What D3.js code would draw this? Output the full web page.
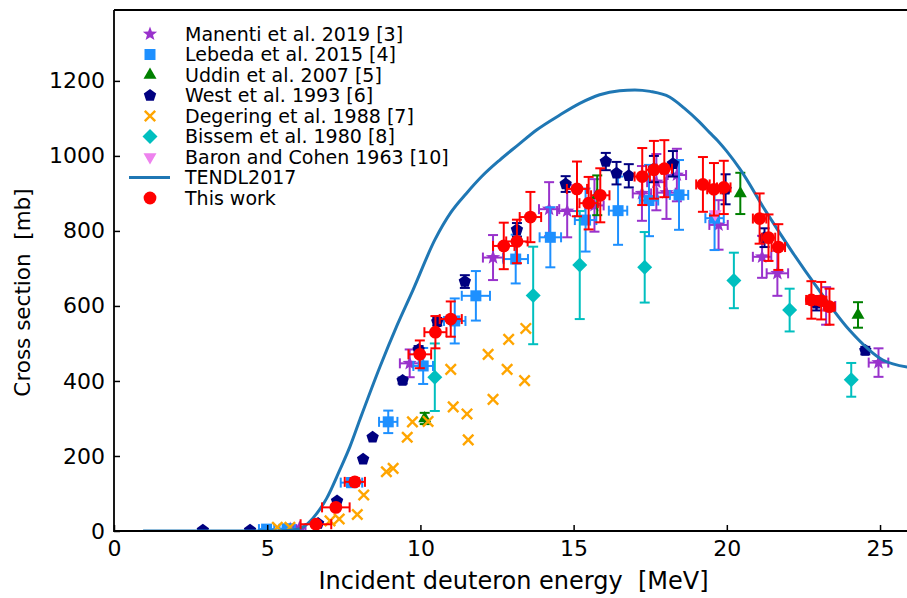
<!DOCTYPE html>
<html><head><meta charset="utf-8">
<script src="https://cdn.jsdelivr.net/npm/d3@7/dist/d3.min.js"></script>
<style>
html,body{margin:0;padding:0;background:#fff;}
svg text{font-family:"DejaVu Sans",sans-serif;fill:#000;white-space:pre;}
</style></head>
<body>
<svg id="chart" width="907" height="598"></svg>
<script>
// ---------------- data ----------------
// rows: [energy MeV, cross section mb, dE, dσ]
const manenti = [
  [5.75,5,0.2,3],[6.05,8,0.2,3],[9.65,447,0.32,37],[12.37,729,0.33,60],[14.20,858,0.33,72],
  [14.79,853,0.33,70],[15.68,868,0.3,70],[17.23,900,0.3,73],[17.70,930,0.3,75],
  [18.03,902,0.3,70],[18.37,949,0.3,70],[19.73,816,0.3,66],[21.15,731,0.3,56],
  [21.65,687,0.35,60],[23.24,600,0.3,50],[24.95,449,0.32,38]
];
const lebeda = [
  [4.98,5,0.25,4],[5.65,6,0.25,4],[7.75,129,0.35,12],[8.95,291,0.3,30],[10.09,440,0.32,48],
  [11.12,560,0.35,60],[11.81,627,0.46,66],[13.11,725,0.4,65],[14.24,783,0.35,80],
  [15.39,829,0.35,84],[16.45,854,0.3,91],[17.46,881,0.3,95],[18.44,896,0.3,93],
  [19.60,834,0.3,85]
];
const uddin = [[10.14,300,0,15],[15.77,895,0,53],[20.44,900,0,55],[24.28,576,0,34]];
const west = [
  [2.9,2,0,0],[4.44,2,0,0],[6.66,20,0,0],[7.28,80,0,0],[8.13,191,0,0],[8.44,250,0,0],
  [9.42,401,0,8],[9.94,483,0,10],[10.55,558,0,10],[11.45,665,0,17],[13.15,803,0,18],
  [14.74,925,0,21],[16.05,985,0,23],[16.40,954,0,30],[16.80,947,0,31],[17.62,965,0,35],
  [18.24,979,0,34],[19.96,911,0,40],[21.23,782,0,25],[22.92,607,0,19],[24.52,481,0,10]
];
const degering = [
  [5.33,10],[5.74,10],[7.05,27],[7.35,32],[7.94,44],[8.15,96],[8.89,158],[9.11,167],
  [9.57,250],[9.74,291],[10.25,292],[10.99,431],[11.07,331],[11.52,312],[11.56,243],
  [12.21,471],[12.37,351],[12.83,431],[12.88,511],[13.40,401],[13.44,540]
];
const bissem = [[10.47,410,0,90],[13.68,628,0,130],[15.20,709,0,144],[17.32,703,0,94],
  [20.23,668,0,74],[22.05,589,0,57],[24.06,403,0,45]];
const baron = [[19.62,845]];
const thisWork = [
  [6.59,18,0.5,5],[7.24,63,0.45,8],[7.86,131,0.33,10],[9.98,471,0.37,37],[10.49,530,0.36,43],
  [10.99,565,0.36,47],[12.72,760,0.35,62],[13.15,772,0.35,58],[13.59,837,0.35,67],
  [15.11,912,0.33,73],[15.49,874,0.3,70],[15.87,895,0.3,72],[17.24,945,0.25,76],
  [17.62,963,0.25,77],[17.96,966,0.25,76],[19.22,924,0.22,73],[19.58,911,0.22,70],
  [19.90,916,0.22,71],[21.07,833,0.22,67],[21.36,782,0.22,62],[21.68,757,0.22,61],
  [22.76,616,0.17,50],[23.08,614,0.17,50],[23.35,598,0.17,48]
];
const tendlE  = [0.95,5.0,5.5,6.0,6.2,6.5,6.94,7.37,7.70,8.02,8.68,9.22,9.76,10.47,11.0,11.5,12.0,12.59,13.2,13.79,14.55,15.2,15.85,16.5,17.0,17.5,18.13,18.6,19.11,19.44,19.71,20.0,20.42,21.29,22.16,22.92,24.0,25.09,25.9];
const tendlCS = [0,0,1,5,12,35,87,163,225,296,438,545,643,776,850,900,945,989,1030,1069,1109,1140,1163,1174,1176,1172,1157,1128,1090,1062,1040,1012,966,850,741,652,536,456,437];
const xTicks = [0,5,10,15,20,25];
const yTicks = [0,200,400,600,800,1000,1200];
const legendLabels = ["Manenti et al. 2019 [3]","Lebeda et al. 2015 [4]","Uddin et al. 2007 [5]",
  "West et al. 1993 [6]","Degering et al. 1988 [7]","Bissem et al. 1980 [8]",
  "Baron and Cohen 1963 [10]","TENDL2017","This work"];

// ---------------- layout ----------------
const svg = d3.select("#chart");
const L = 114, R = 907, T = 10, B = 531;
const x = d3.scaleLinear().domain([0, 25.88]).range([L, R]);
const y = d3.scaleLinear().domain([0, 1389]).range([B, T]);

const C = {
  manenti:"#9932CC", lebeda:"#1E90FF", uddin:"#008000", west:"#000080",
  degering:"#FFA500", bissem:"#00BFBF", baron:"#EE82EE", tendl:"#1f77b4", red:"#FF0000"
};

function polyPath(n, r, rot, inner){
  const pts=[];
  const k = inner ? 2*n : n;
  for(let i=0;i<k;i++){
    const rr = inner ? (i%2===0? r : r*inner) : r;
    const a = rot + i*2*Math.PI/k;
    pts.push([rr*Math.sin(a), -rr*Math.cos(a)]);
  }
  return "M"+pts.map(p=>p[0].toFixed(2)+","+p[1].toFixed(2)).join("L")+"Z";
}
const shapes = {
  star: polyPath(5, 7.5, 0, 0.42),
  square: "M-5.5,-5.5H5.5V5.5H-5.5Z",
  triUp: polyPath(3, 7.5, 0),
  pent: polyPath(5, 6.5, 0),
  diamond: "M0,-7.5L7.5,0L0,7.5L-7.5,0Z",
  triDown: polyPath(3, 7.5, Math.PI),
  circle: d3.symbol(d3.symbolCircle, Math.PI*6.4*6.4)(),
  cross: "M-5.2,-5.2L5.2,5.2M-5.2,5.2L5.2,-5.2"
};

const defs = svg.append("defs");
defs.append("clipPath").attr("id","clip").append("rect")
  .attr("x",L).attr("y",T).attr("width",R-L).attr("height",B-T);

const plot = svg.append("g").attr("clip-path","url(#clip)");

function errorbars(data, color, cap=5){
  const g = plot.append("g").attr("stroke",color).attr("stroke-width",2).attr("fill","none");
  data.forEach(d=>{
    const cx=x(d[0]), cy=y(d[1]);
    const dx=d[2]||0, dy=d[3]||0;
    if(dy>0){
      const y1=y(d[1]+dy), y2=y(d[1]-dy);
      g.append("line").attr("x1",cx).attr("x2",cx).attr("y1",y1).attr("y2",y2);
      g.append("line").attr("x1",cx-cap).attr("x2",cx+cap).attr("y1",y1).attr("y2",y1);
      g.append("line").attr("x1",cx-cap).attr("x2",cx+cap).attr("y1",y2).attr("y2",y2);
    }
    if(dx>0){
      const x1=x(d[0]-dx), x2=x(d[0]+dx);
      g.append("line").attr("x1",x1).attr("x2",x2).attr("y1",cy).attr("y2",cy);
      g.append("line").attr("x1",x1).attr("x2",x1).attr("y1",cy-cap).attr("y2",cy+cap);
      g.append("line").attr("x1",x2).attr("x2",x2).attr("y1",cy-cap).attr("y2",cy+cap);
    }
  });
}
function markers(data, shape, color, stroke){
  const g = plot.append("g");
  g.selectAll("path").data(data).join("path")
    .attr("d", shapes[shape])
    .attr("transform", d=>`translate(${x(d[0])},${y(d[1])})`)
    .attr("fill", stroke ? "none" : color)
    .attr("stroke", stroke ? color : "none")
    .attr("stroke-width", stroke ? 2.4 : 0);
}

errorbars(manenti, C.manenti); markers(manenti, "star", C.manenti);
errorbars(lebeda, C.lebeda); markers(lebeda, "square", C.lebeda);
errorbars(uddin, C.uddin); markers(uddin, "triUp", C.uddin);
errorbars(west, C.west); markers(west, "pent", C.west);
markers(degering, "cross", C.degering, true);
errorbars(bissem, C.bissem); markers(bissem, "diamond", C.bissem);
markers(baron, "triDown", C.baron);
plot.append("path")
  .datum(tendlE.map((e,i)=>[e,tendlCS[i]]))
  .attr("fill","none").attr("stroke",C.tendl).attr("stroke-width",3)
  .attr("d", d3.line().curve(d3.curveMonotoneX).x(d=>x(d[0])).y(d=>y(d[1])));
errorbars(thisWork, C.red); markers(thisWork, "circle", C.red);

// ---------------- axes ----------------
const xAxis = d3.axisBottom(x).tickValues(xTicks).tickFormat(d3.format("d")).tickSizeInner(-6).tickSizeOuter(0).tickPadding(9);
const yAxis = d3.axisLeft(y).tickValues(yTicks).tickFormat(d3.format("d")).tickSizeInner(-6).tickSizeOuter(0).tickPadding(9);
const gx = svg.append("g").attr("transform",`translate(0,${B})`).call(xAxis);
const gy = svg.append("g").attr("transform",`translate(${L},0)`).call(yAxis);
[gx,gy].forEach(g=>{
  g.select(".domain").remove();
  g.selectAll(".tick line").attr("stroke","#000").attr("stroke-width",1.5);
  g.selectAll(".tick text").attr("font-size",22).attr("font-family","DejaVu Sans").attr("fill","#000");
});
svg.append("path").attr("d",`M${L},${T}H${R+5}M${L},${T}V${B}H${R+5}`)
  .attr("fill","none").attr("stroke","#000").attr("stroke-width",1.8);

svg.append("text").attr("x",(L+R)/2 + 3).attr("y",589).attr("text-anchor","middle")
  .attr("font-size",24).text("Incident deuteron energy\u00A0\u00A0[MeV]");
svg.append("text").attr("transform",`translate(30,${(T+B)/2 + 22}) rotate(-90)`)
  .attr("text-anchor","middle").attr("font-size",21.5).text("Cross section\u00A0\u00A0[mb]");

// ---------------- legend ----------------
const leg = svg.append("g");
const legShapes = [["star",C.manenti],["square",C.lebeda],["triUp",C.uddin],["pent",C.west],
  ["cross",C.degering],["diamond",C.bissem],["triDown",C.baron],["line",C.tendl],["circle",C.red]];
legendLabels.forEach((lab,i)=>{
  const cy = 34 + i*20.5;
  const [sh,col] = legShapes[i];
  if(sh==="line"){
    leg.append("line").attr("x1",129).attr("x2",170).attr("y1",cy).attr("y2",cy)
      .attr("stroke",col).attr("stroke-width",3);
  } else {
    leg.append("path").attr("d",shapes[sh]).attr("transform",`translate(150,${cy})`)
      .attr("fill", sh==="cross"?"none":col).attr("stroke", sh==="cross"?col:"none")
      .attr("stroke-width", sh==="cross"?2.4:0);
  }
  leg.append("text").attr("x",185).attr("y",cy).attr("dy","0.36em")
    .attr("font-size",19).text(lab);
});
</script>
</body></html>
